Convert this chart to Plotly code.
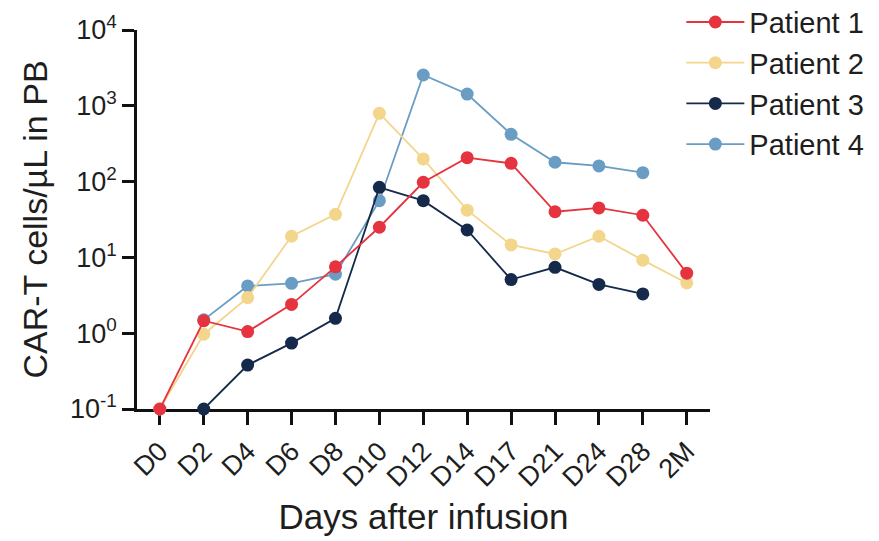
import plotly.graph_objects as go

days = ["D0", "D2", "D4", "D6", "D8", "D10", "D12", "D14", "D17", "D21", "D24", "D28", "2M"]
patient1 = [0.1, 1.46, 1.05, 2.4, 7.5, 25, 98, 207, 174, 40, 45, 36, 6.2]
patient2 = [0.1, 0.97, 2.95, 19, 37, 795, 199, 42, 14.6, 11.1, 19, 9.2, 4.6]
patient3 = [None, 0.1, 0.38, 0.74, 1.57, 84, 56, 23, 5.1, 7.4, 4.4, 3.3, None]
patient4 = [None, 1.5, 4.2, 4.55, 6.0, 56, 2550, 1430, 421, 180, 161, 131, None]
names = ["Patient 1", "Patient 2", "Patient 3", "Patient 4"]
colors = ["#E5333F", "#F3D68C", "#15294A", "#6A9DC4"]
series = [patient1, patient2, patient3, patient4]

ytick_vals = [0.1, 1, 10, 100, 1000, 10000]
ytick_text = ["10<sup>-1</sup>", "10<sup>0</sup>", "10<sup>1</sup>", "10<sup>2</sup>", "10<sup>3</sup>", "10<sup>4</sup>"]

FONT = "Liberation Sans, Arial, sans-serif"
INK = "#1e1e1e"

fig = go.Figure()
# draw in reverse so Patient 1 is on top; legend order kept by legendrank
for i in [3, 2, 1, 0]:
    fig.add_trace(go.Scatter(
        x=days, y=series[i], name=names[i], mode="lines+markers",
        line=dict(color=colors[i], width=1.8),
        marker=dict(color=colors[i], size=13),
        cliponaxis=False, connectgaps=False, legendrank=i + 1,
    ))

fig.update_layout(
    width=879, height=541,
    margin=dict(l=137, r=169, t=30, b=132, autoexpand=False),
    paper_bgcolor="white", plot_bgcolor="white",
    font=dict(family=FONT, color=INK),
    showlegend=True,
    legend=dict(x=0.950, xanchor="left", y=1.088, yanchor="top",
                font=dict(size=29, family=FONT, color=INK),
                bgcolor="rgba(0,0,0,0)", itemwidth=58, tracegroupgap=0),
)
fig.update_xaxes(
    type="category", categoryorder="array", categoryarray=days,
    range=[-0.52, 12.53],
    showline=True, linecolor="#111111", linewidth=2.5, mirror=False,
    ticks="outside", ticklen=13, tickwidth=2.5, tickcolor="#111111",
    tickangle=-45, tickfont=dict(size=27, family=FONT, color=INK),
    showgrid=False, zeroline=False, layer="below traces", automargin=False,
    title=dict(text="Days after infusion", font=dict(size=35, family=FONT, color=INK), standoff=14),
)
fig.update_yaxes(
    type="log", range=[-1, 4],
    tickvals=ytick_vals, ticktext=ytick_text,
    showline=True, linecolor="#111111", linewidth=2.5,
    ticks="outside", ticklen=12, tickwidth=2.5, tickcolor="#111111",
    tickfont=dict(size=27, family=FONT, color=INK),
    showgrid=False, zeroline=False, layer="below traces", automargin=False,
    title=dict(text="CAR-T cells/µL in PB", font=dict(size=34, family=FONT, color=INK), standoff=13),
)

fig.write_html("out.html", config={"displayModeBar": False},
               post_script="document.body.style.margin='0';")
